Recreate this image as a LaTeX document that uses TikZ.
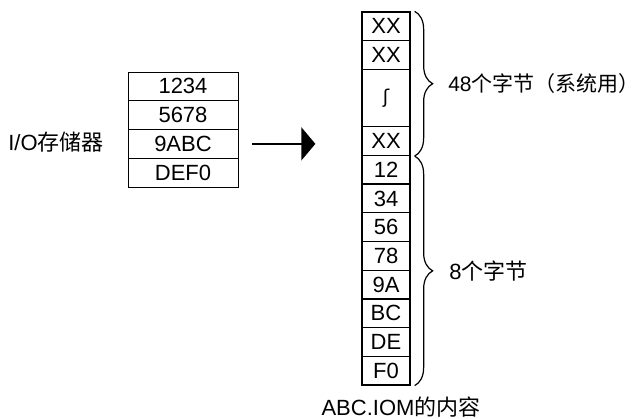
\documentclass[tikz,border=0pt]{standalone}
\usepackage{fontspec}
\setmainfont{Liberation Sans}
\newfontfamily\cjk{Noto Sans CJK SC}
\newfontfamily\dejavu{DejaVu Sans}
\usetikzlibrary{arrows.meta,decorations.pathreplacing}

\begin{document}
\begin{tikzpicture}[x=1pt, y=1pt,
        bigfont/.style={font=\fontsize{22}{26}\selectfont},
        iocell/.style={draw, line width=0.8pt, bigfont, minimum width=110pt, minimum height=28.75pt, inner sep=0pt},
        bytecell/.style={draw, line width=1.3pt, bigfont, minimum width=48pt, minimum height=28.69pt, inner sep=0pt},
        bytebrace/.style={decorate, decoration={brace, amplitude=18pt}, line width=1.2pt},
        bracelabel/.style={bigfont, inner sep=0pt, anchor=west}]
    \useasboundingbox (0,0) rectangle (640,419);

    \node[bigfont, inner sep=0pt] (iolabel) at (56,277) {I/O{\cjk 存储器}};

    \foreach \t [count=\i] in {1234,5678,9ABC,DEF0} {
        \node[iocell] (io\i) at (183,{347-28.75*(\i-0.5)}) {\t};
    }

    \foreach \t/\k [count=\i] in {XX/0,XX/1,XX/4,12/5,34/6,56/7,78/8,9A/9,BC/10,DE/11,F0/12} {
        \node[bytecell] (byte\i) at (386,{407-28.69*(\k+0.5)}) {\t};
    }
    \node[bytecell, minimum height=57.38pt, font=\fontsize{19}{22}\dejavu] (gap) at (386,{407-28.69*3}) {ʃ};

    \draw[-{Triangle[length=14pt,width=33pt]}, line width=1.6pt] ([xshift=14pt]io3.east) -- ([xshift=-46pt]byte3.west |- io3.east);

    \draw[bytebrace] ([xshift=4pt]byte1.north east) -- ([xshift=4pt]byte3.south east)
        node[midway, bracelabel, xshift=33pt, font=\fontsize{21}{25}\selectfont] (syslabel) {48{\cjk 个字节（系统用）}};
    \draw[bytebrace] ([xshift=4pt]byte3.south east) -- ([xshift=4pt]byte11.south east)
        node[midway, bracelabel, xshift=34pt] (datalabel) {8{\cjk 个字节}};

    \node[bigfont, inner sep=0pt, anchor=base] (caption) at (401,3.5) {ABC.IOM{\cjk 的内容}};
\end{tikzpicture}
\end{document}
